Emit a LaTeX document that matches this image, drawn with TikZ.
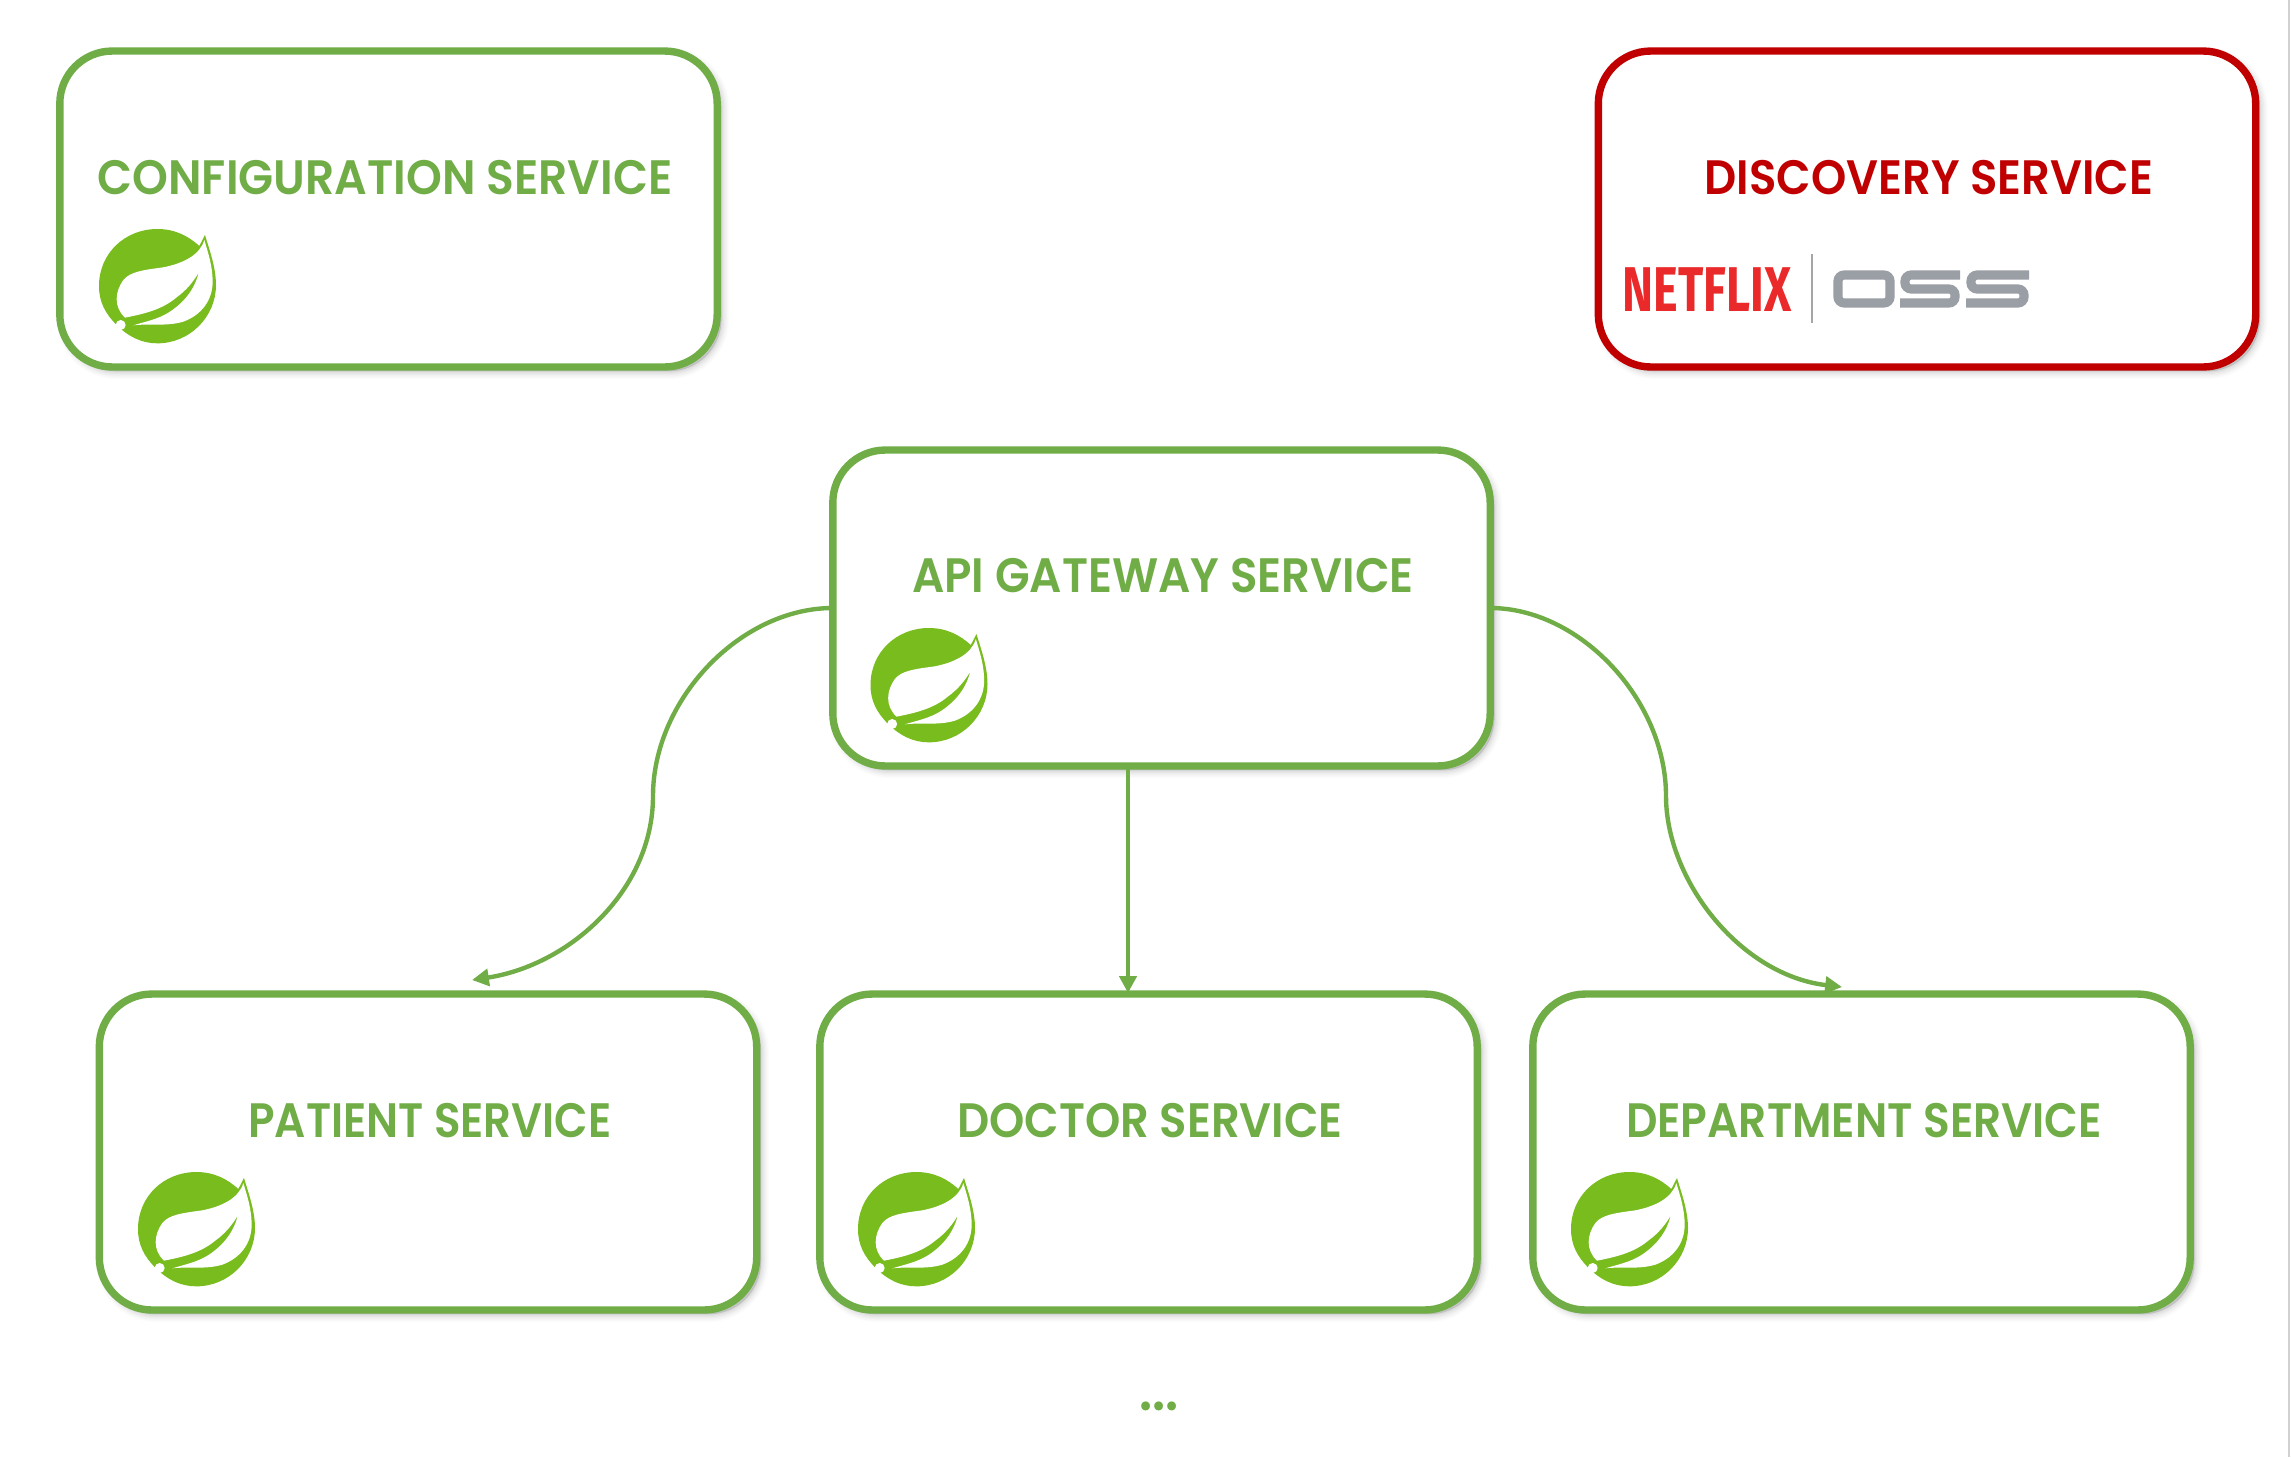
\documentclass[tikz,border=0pt]{standalone}
\usepackage{fontspec}
\usetikzlibrary{arrows.meta,calc}
\newfontfamily\svcfont[FakeStretch=0.93]{Poppins SemiBold}
\newfontfamily\nfxfont[FakeStretch=0.74]{Fira Sans}
\definecolor{svcgreen}{HTML}{70AD47}
\definecolor{svcred}{HTML}{C00000}
\definecolor{leafgreen}{HTML}{78BC1E}
\definecolor{nfxred}{HTML}{EA2A2A}
\definecolor{ossgray}{HTML}{9A9EA5}
\tikzset{
  softshadow/.style={
    preaction={fill=black,draw=black,opacity=.012,line width=9pt,transform canvas={shift={(2.5pt,-2.5pt)}}},
    preaction={fill=black,draw=black,opacity=.016,line width=7.5pt,transform canvas={shift={(2.5pt,-2.5pt)}}},
    preaction={fill=black,draw=black,opacity=.02,line width=6pt,transform canvas={shift={(2.5pt,-2.5pt)}}},
    preaction={fill=black,draw=black,opacity=.024,line width=4.5pt,transform canvas={shift={(2.5pt,-2.5pt)}}},
    preaction={fill=black,draw=black,opacity=.028,line width=3pt,transform canvas={shift={(2.5pt,-2.5pt)}}},
    preaction={fill=black,draw=black,opacity=.03,line width=1.5pt,transform canvas={shift={(2.5pt,-2.5pt)}}}},
  svcbox/.style={softshadow,draw=#1,fill=white,line width=4.2pt,rounded corners=1.05cm,
    minimum width=13.15cm,minimum height=6.32cm,outer sep=0pt,inner sep=0pt},
  svclabel/.style={text=#1,font=\svcfont\fontsize{27.5}{30}\selectfont,inner sep=0pt,anchor=center,transform shape},
  flow/.style={draw=svcgreen,line width=2.5pt,-{Triangle[length=9.6pt,width=9.6pt]}},
  leaf/.pic={
    \begin{scope}[x=0.006667cm,y=-0.006667cm]
      \fill[leafgreen] (375,75) .. controls (385,110) and (408,170) .. (408,225)
        .. controls (408,320) and (330,400) .. (232,400)
        .. controls (185,400) and (145,380) .. (110,345)
        .. controls (75,310) and (57,275) .. (57,228)
        .. controls (57,130) and (135,57) .. (232,57)
        .. controls (285,57) and (325,78) .. (358,108) -- cycle;
      \fill[white] (373,90) .. controls (360,135) and (310,160) .. (250,172)
        .. controls (190,180) and (150,185) .. (130,210)
        .. controls (105,245) and (100,290) .. (135,323)
        .. controls (190,312) and (245,300) .. (290,262)
        .. controls (320,240) and (340,215) .. (356,188)
        .. controls (345,235) and (315,275) .. (270,305)
        .. controls (235,328) and (195,335) .. (160,346)
        .. controls (210,340) and (260,350) .. (310,335)
        .. controls (365,315) and (398,270) .. (398,215)
        .. controls (398,170) and (385,130) .. (373,90) -- cycle;
      \fill[white] (122,345) circle[radius=15];
    \end{scope}}
}
\begin{document}
\begin{tikzpicture}[x=0.02cm,y=-0.02cm]
\useasboundingbox (0,0) rectangle (2291,1457);
\fill[white] (0,0) rectangle (2291,1457);
\draw[black!18,line width=1.1pt] (2289,0) -- (2289,1457);

\node[svcbox=svcgreen] (cfg) at (388.5,209) {};
\node[svcbox=svcred] (disc) at (1927,209) {};
\node[svcbox=svcgreen] (gw) at (1161.5,608) {};
\node[svcbox=svcgreen] (pat) at (428,1152) {};
\node[svcbox=svcgreen] (doc) at (1148.5,1152) {};
\node[svcbox=svcgreen] (dept) at (1861.5,1152) {};

\node[svclabel=svcgreen,xscale=1.015] (cfgt) at (385,178) {CONFIGURATION SERVICE};
\node[svclabel=svcred] (disct) at (1929,178) {DISCOVERY SERVICE};
\node[svclabel=svcgreen,xscale=1.004] (gwt) at (1163,576) {API GATEWAY SERVICE};
\node[svclabel=svcgreen,xscale=.97] (patt) at (430,1121) {PATIENT SERVICE};
\node[svclabel=svcgreen] (doct) at (1150,1121) {DOCTOR SERVICE};
\node[svclabel=svcgreen,xscale=.977] (deptt) at (1864,1121) {DEPARTMENT SERVICE};
\node[text=svcgreen,font=\svcfont\fontsize{31}{34}\selectfont,inner sep=0pt,anchor=base] (more) at (1159,1410) {...};

\pic at (80,210) {leaf};
\pic at (851.5,609) {leaf};
\pic at (119,1153) {leaf};
\pic at (839,1153) {leaf};
\pic at (1552,1153) {leaf};

\node[text=nfxred,font=\nfxfont\bfseries\fontsize{36}{38}\selectfont,inner sep=0pt] (nfx) at (1707,290) {NETFLIX};
\draw[black!35,line width=1.2pt] (1812,254) -- (1812,323);
\begin{scope}[draw=ossgray,line width=5.2pt,rounded corners=3.5pt]
  \draw (1838,275) rectangle (1890,303);
  \draw (1960,275) -- (1905,275) -- (1905,289) -- (1955,289) -- (1955,303) -- (1900,303);
  \draw (2029,275) -- (1971,275) -- (1971,289) -- (2024,289) -- (2024,303) -- (1966,303);
\end{scope}

\coordinate (patend) at (472,980);
\coordinate (deptend) at (1842,987);
\draw[flow] (gw.west) .. controls (740,608) and (653,700) .. (653,796)
  .. controls (653,890) and (570,965) .. (patend);
\draw[flow] (gw.east) .. controls (1580,608) and (1666,700) .. (1666,796)
  .. controls (1666,880) and (1740,975) .. (deptend);
\draw[flow] ($(gw.south)+(-33.5,0)$) -- ($(doc.north)+(-20.5,-1)$);
\end{tikzpicture}
\end{document}
